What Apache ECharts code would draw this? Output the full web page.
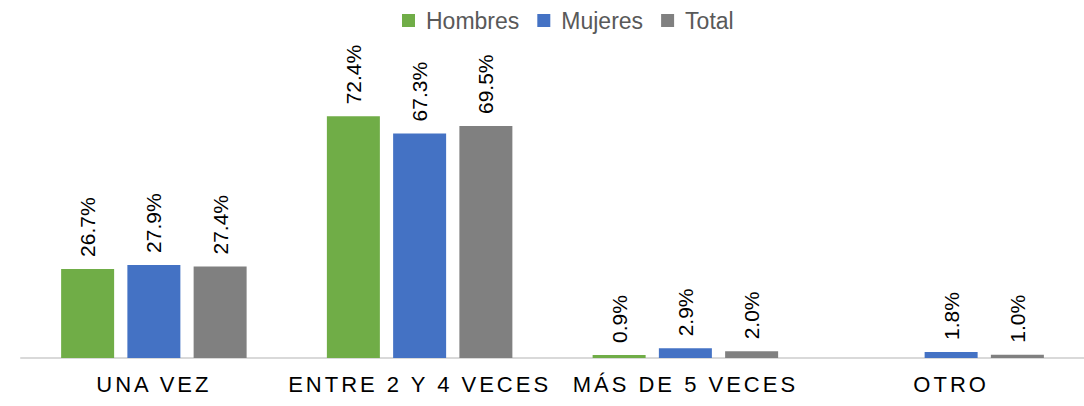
<!DOCTYPE html>
<html>
<head>
<meta charset="utf-8">
<script src="https://cdn.jsdelivr.net/npm/echarts@6/dist/echarts.min.js"></script>
<style>
html,body{margin:0;padding:0;background:#fff;}
#chart{width:1084px;height:406px;}
</style>
</head>
<body>
<div id="chart"></div>
<script>
const categories = ['UNA VEZ', 'ENTRE 2 Y 4 VECES', 'MÁS DE 5 VECES', 'OTRO'];
const seriesNames = ['Hombres', 'Mujeres', 'Total'];
const hombres = [26.7, 72.4, 0.9, null];
const mujeres = [27.9, 67.3, 2.9, 1.8];
const total = [27.4, 69.5, 2.0, 1.0];
const colors = ['#70AD47', '#4472C4', '#808080'];

const FONT = '"Liberation Sans", Arial, sans-serif';
const chart = echarts.init(document.getElementById('chart'), null, {renderer: 'svg'});

function mkSeries(name, data, color) {
  return {
    name: name,
    type: 'bar',
    data: data,
    barWidth: 53,
    barGap: '25%',
    itemStyle: {color: color},
    label: {
      show: true,
      position: 'top',
      rotate: 90,
      align: 'left',
      verticalAlign: 'middle',
      distance: 12,
      fontFamily: FONT,
      fontSize: 21,
      color: '#000',
      formatter: p => (p.value == null ? '' : p.value.toFixed(1) + '%')
    }
  };
}

chart.setOption({
  animation: false,
  color: colors,
  legend: {
    top: 4,
    left: 397,
    icon: 'rect',
    itemWidth: 13,
    itemHeight: 13,
    itemGap: 18,
    textStyle: {fontFamily: FONT, fontSize: 23, color: '#595959', padding: [0, 0, 0, 6]},
    data: seriesNames
  },
  grid: {left: 21, right: -6, top: 91, bottom: 48, containLabel: false},
  xAxis: {
    type: 'category',
    data: categories,
    axisLine: {lineStyle: {color: '#D9D9D9', width: 2}},
    axisTick: {show: false},
    axisLabel: {interval: 0, margin: 15, fontFamily: FONT, fontSize: 22, color: '#000'}
  },
  yAxis: {
    type: 'value', min: 0, max: 80, show: false, splitLine: {show: false}
  },
  series: [
    mkSeries(seriesNames[0], hombres, colors[0]),
    mkSeries(seriesNames[1], mujeres, colors[1]),
    mkSeries(seriesNames[2], total, colors[2])
  ]
});

function spaceLabels() {
  document.querySelectorAll('#chart svg text').forEach(t => {
    if (categories.includes(t.textContent)) {
      t.setAttribute('letter-spacing', '3');
      t.style.letterSpacing = '3px';
    }
  });
}
chart.on('finished', spaceLabels);
spaceLabels();
</script>
</body>
</html>
